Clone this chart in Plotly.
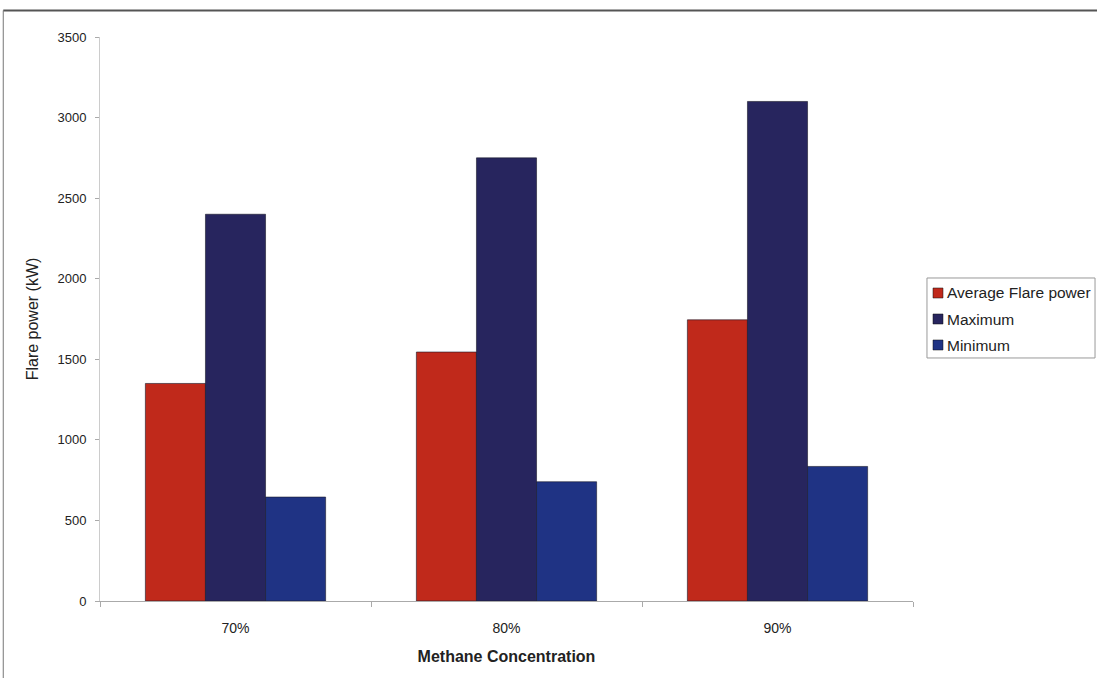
import plotly.graph_objects as go

# Flare power by methane concentration
categories = ["70%", "80%", "90%"]
average_power = [1350, 1545, 1745]
maximum_power = [2400, 2750, 3100]
minimum_power = [645, 740, 835]

series = [
    ("Average Flare power", average_power, "#C0291B"),
    ("Maximum", maximum_power, "#27255E"),
    ("Minimum", minimum_power, "#1F3384"),
]

fig = go.Figure()
for name, vals, color in series:
    fig.add_trace(go.Bar(
        x=categories, y=vals, name=name,
        marker=dict(color=color, line=dict(color="#1a1a2a", width=0.6)),
    ))

# Compact legend box drawn on the right of the plot area
shapes = [
    dict(type="rect", xref="paper", yref="paper", x0=1.0172, x1=1.2239,
         y0=0.4309, y1=0.5727, line=dict(color="#999", width=1),
         fillcolor="white"),
    dict(type="line", xref="paper", yref="paper", x0=-0.119, x1=1.3,
         y0=1.047, y1=1.047, line=dict(color="#555", width=2)),
    dict(type="line", xref="paper", yref="paper", x0=-0.119, x1=-0.119,
         y0=1.047, y1=-0.137, line=dict(color="#777", width=1)),
]
annotations = []
legend_rows = [0.5461, 0.5000, 0.4539]
for (name, _, color), yr in zip(series, legend_rows):
    shapes.append(dict(type="rect", xref="paper", yref="paper",
                       x0=1.0246, x1=1.0369, y0=yr - 0.0089, y1=yr + 0.0089,
                       fillcolor=color, line=dict(color="#111", width=0.5)))
    annotations.append(dict(xref="paper", yref="paper", x=1.0394, y=yr,
                            xanchor="left", yanchor="middle", text=name,
                            showarrow=False, font=dict(size=15.5, color="#222")))

fig.update_layout(
    width=1097, height=678,
    margin=dict(l=100, r=184, t=37, b=77, autoexpand=False),
    paper_bgcolor="white", plot_bgcolor="white",
    barmode="group", bargap=0.335, bargroupgap=0,
    font=dict(family="Liberation Sans, Arial, sans-serif", size=13, color="#222"),
    showlegend=False,
    xaxis=dict(
        showline=True, linecolor="#aaa", linewidth=1,
        ticks="outside", tickson="boundaries", ticklen=5, tickcolor="#aaa",
        showgrid=False, ticklabelstandoff=14,
        tickfont=dict(size=14),
        title=dict(text="<b>Methane Concentration</b>", standoff=16,
                   font=dict(size=16, color="#222")),
    ),
    yaxis=dict(
        range=[0, 3500], dtick=500, showline=True, linecolor="#ccc",
        ticks="outside", ticklen=4, tickcolor="#aaa", showgrid=False,
        zeroline=False, ticklabelstandoff=6,
        title=dict(text="Flare power (kW)", standoff=14,
                   font=dict(size=16, color="#222")),
    ),
    shapes=shapes,
    annotations=annotations,
)

fig.write_html("out.html")
